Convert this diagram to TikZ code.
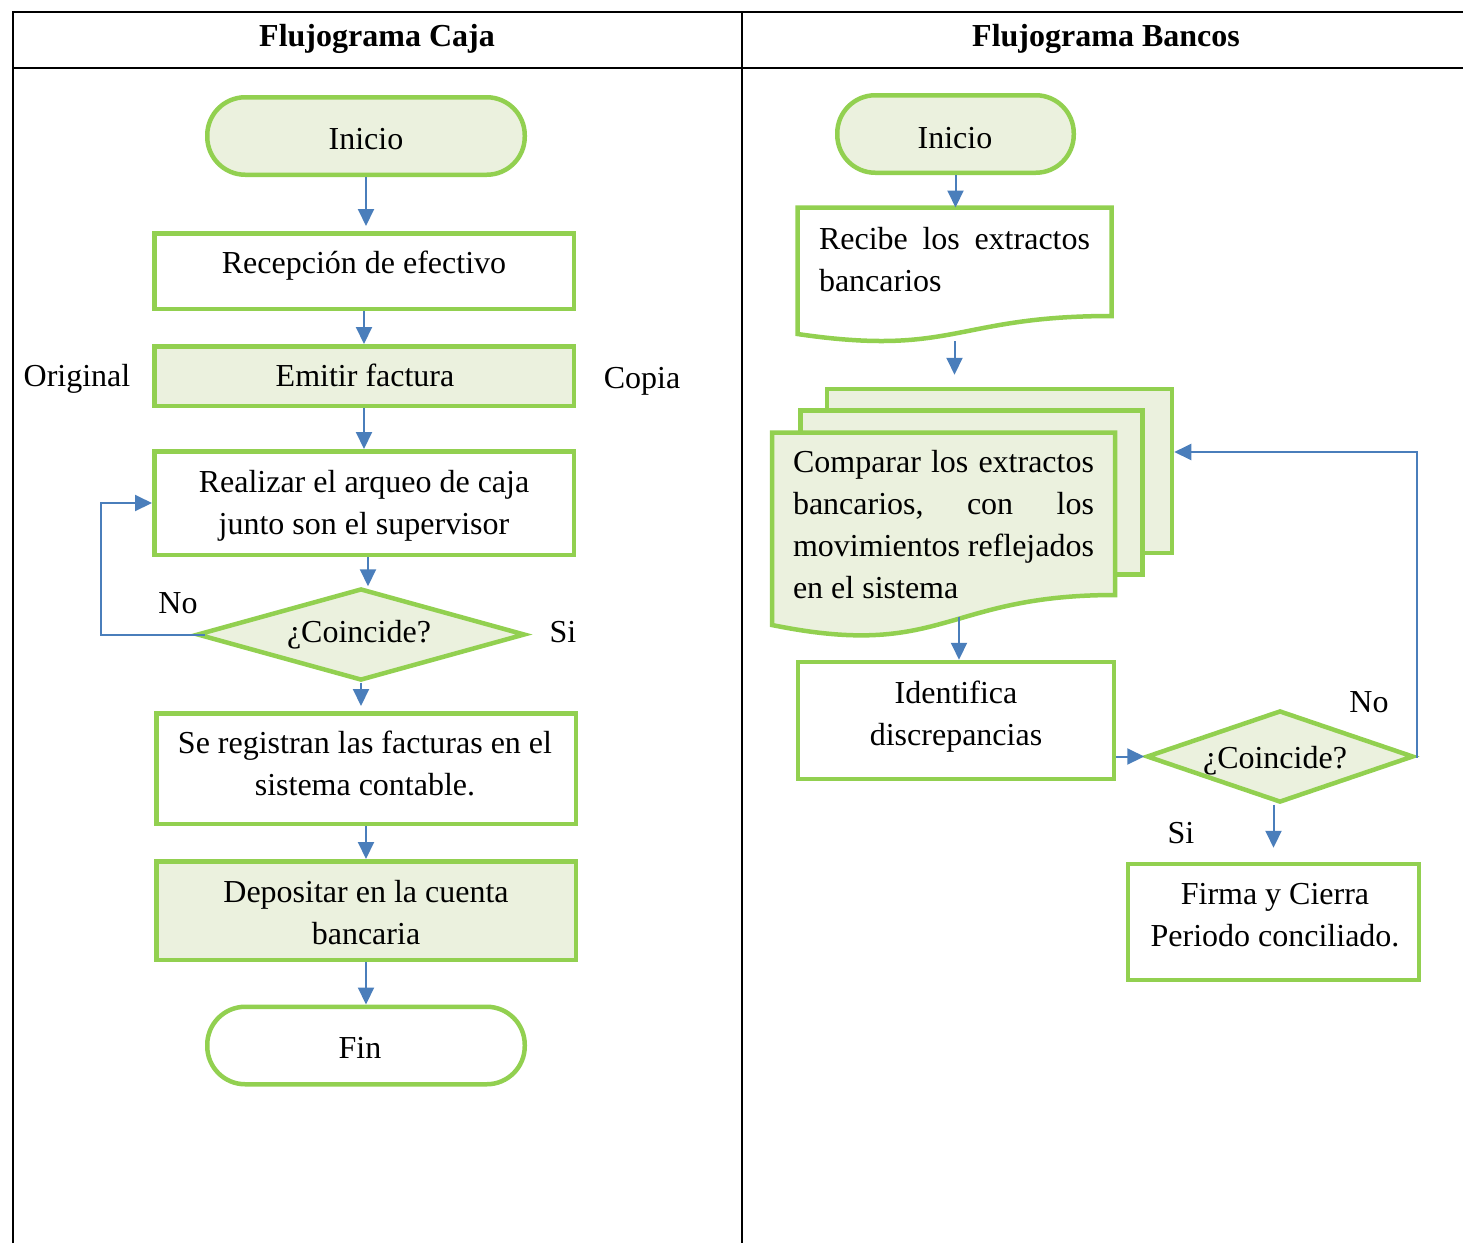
\documentclass[tikz,border=0pt]{standalone}
\usepackage{fontspec}
\setmainfont{Liberation Serif}
\usetikzlibrary{arrows.meta,shapes.geometric}
\definecolor{flowgreen}{HTML}{92D050}
\definecolor{flowfill}{HTML}{EBF1DE}
\definecolor{flowblue}{HTML}{4A7EBB}

\begin{document}
\begin{tikzpicture}[x=1pt,y=-1pt,
  shp/.style={draw=flowgreen, line width=4.5pt, inner sep=0pt, line join=miter},
  procW/.style={shp, rectangle, fill=white},
  procG/.style={shp, rectangle, fill=flowfill},
  term/.style={shp, rectangle, rounded corners=38pt},
  dec/.style={shp, diamond, fill=flowfill},
  frame/.style={inner sep=0pt, outer sep=0pt, rectangle},
  txt/.style={inner sep=0pt, font=\fontsize{32}{42}\selectfont, align=center},
  head/.style={inner sep=0pt, font=\bfseries\fontsize{32}{42}\selectfont},
  conn/.style={draw=flowblue, line width=2pt, -{Triangle[length=17pt,width=16pt]}},
  rule/.style={draw=black, line width=1.5pt}]

\useasboundingbox (0,0) rectangle (1463,1243);
\fill[white] (0,0) rectangle (1463,1243);

% table frame
\draw[rule] (13,1243) -- (13,12) -- (1463,12);
\draw[rule] (13,68) -- (1463,68);
\draw[rule] (742,12) -- (742,1243);
\node[head] (hCaja) at (377,37.6) {\strut Flujograma Caja};
\node[head] (hBancos) at (1106,37.6) {\strut Flujograma Bancos};

% ---------- cash flow ----------
\node[term, fill=flowfill, minimum width=317.5pt, minimum height=77.5pt] (ini1) at (366,136) {};
\node[procW, minimum width=419.5pt, minimum height=75.5pt] (rec) at (364,271) {};
\node[procG, minimum width=419.5pt, minimum height=59.5pt] (emi) at (364,376) {};
\node[procW, minimum width=419.5pt, minimum height=103.5pt] (arq) at (364,503) {};
\node[dec, minimum width=328pt, minimum height=92pt] (d1) at (361,634.5) {};
\node[procW, minimum width=419.5pt, minimum height=110.5pt] (reg) at (366,768.5) {};
\node[procG, minimum width=419.5pt, minimum height=98.5pt] (dep) at (366,910.5) {};
\node[term, fill=white, minimum width=317.5pt, minimum height=77.5pt] (fin) at (366,1045.5) {};

\node[txt] (tIni1) at (366,140.6) {\strut Inicio};
\node[txt] (tRec) at (364,264.6) {\strut Recepción de efectivo};
\node[txt] (tEmi) at (365,377.6) {\strut Emitir factura};
\node[txt] (tOrig) at (77,377.6) {\strut Original};
\node[txt] (tCop) at (642,379.6) {\strut Copia};
\node[txt] (tArq) at (364,504.6) {\strut Realizar el arqueo de caja\\junto son el supervisor\strut};
\node[txt] (tNo1) at (178,604.6) {\strut No};
\node[txt] (tSi1) at (563,633.6) {\strut Si};
\node[txt] (tD1) at (359,633.6) {\strut ¿Coincide?};
\node[txt] (tReg) at (365,765.6) {\strut Se registran las facturas en el\\sistema contable.\strut};
\node[txt] (tDep) at (366,914.6) {\strut Depositar en la cuenta\\bancaria\strut};
\node[txt] (tFin) at (360,1049.6) {\strut Fin};

% ---------- bank flow ----------
\node[term, fill=flowfill, minimum width=236.5pt, minimum height=77.5pt] (ini2) at (955.5,134) {};

% single document
\node[frame, minimum width=314pt, minimum height=135pt] (recibe) at (954.5,275) {};
\draw[shp, fill=white] (797.5,207.5) -- (1111.5,207.5) -- (1111.5,316)
  .. controls (954.5,316) and (954.5,357) .. (797.5,334) -- cycle;
\coordinate (recOut) at (954.5,341);

% multi-document
\node[procG, minimum width=345pt, minimum height=164pt] (back) at (999.5,471) {};
\node[procG, minimum width=342pt, minimum height=164pt] (mid) at (971.5,492.5) {};
\node[frame, minimum width=343pt, minimum height=205pt] (cmp) at (943.5,535) {};
\draw[shp, fill=flowfill] (772,432.5) -- (1115,432.5) -- (1115,595)
  .. controls (943.5,595) and (943.5,660) .. (772,625) -- cycle;
\coordinate (cmpOut) at (959,617);

\node[procW, minimum width=316pt, minimum height=117pt] (ident) at (956,720.5) {};
\node[dec, minimum width=267pt, minimum height=92pt] (d2) at (1280,756.5) {};
\node[procW, minimum width=291pt, minimum height=116pt] (firma) at (1273.5,922) {};

\node[txt] (tIni2) at (955,139.6) {\strut Inicio};
\node[txt, align=left] (tRecibe) at (954.5,261.6)
  {\strut\hbox to 271pt{Recibe\hfill los\hfill extractos}\\bancarios\strut};
\node[txt, align=left] (tCmp) at (943.5,526.6)
  {\strut\hbox to 301pt{Comparar\hfill los\hfill extractos}\\
   \hbox to 301pt{bancarios,\hfill con\hfill los}\\
   \hbox to 301pt{movimientos\hfill reflejados}\\
   en el sistema\strut};
\node[txt] (tIdent) at (956,715.6) {\strut Identifica\\discrepancias\strut};
\node[txt] (tD2) at (1275,759.6) {\strut ¿Coincide?};
\node[txt] (tNo2) at (1369,703.6) {\strut No};
\node[txt] (tSi2) at (1181,834.6) {\strut Si};
\node[txt] (tFirma) at (1275,916.6) {\strut Firma y Cierra\\Periodo conciliado.\strut};

% ---------- connectors ----------
\draw[conn, shorten >=5pt] (ini1.south) -- (ini1.south |- rec.north);
\draw[conn] (rec.south) -- (rec.south |- emi.north);
\draw[conn] (emi.south) -- (emi.south |- arq.north);
\draw[conn] ([xshift=4pt]arq.south) -- ([xshift=4pt]arq.south |- d1.north);
\draw[conn, shorten >=5pt] (d1.south) -- (d1.south |- reg.north);
\draw[conn] (reg.south) -- (reg.south |- dep.north);
\draw[conn] (dep.south) -- (dep.south |- fin.north);
\coordinate (loopL) at (101,600);
\draw[conn] ([xshift=10pt]d1.west) -| (loopL) |- (arq.west);

\draw[conn] (ini2.south) -- (ini2.south |- recibe.north);
\draw[conn, shorten >=12pt] (recOut) -- (recOut |- back.north);
\draw[conn] (cmpOut) -- (cmpOut |- ident.north);
\draw[conn] (ident.east |- d2.west) -- (d2.west);
\draw[conn, shorten >=14pt] (firma.north |- d2.south) -- (firma.north);
\coordinate (loopR) at (1417,452);
\draw[conn] (d2.east) -| (loopR) -- (back.east |- loopR);
\end{tikzpicture}
\end{document}
